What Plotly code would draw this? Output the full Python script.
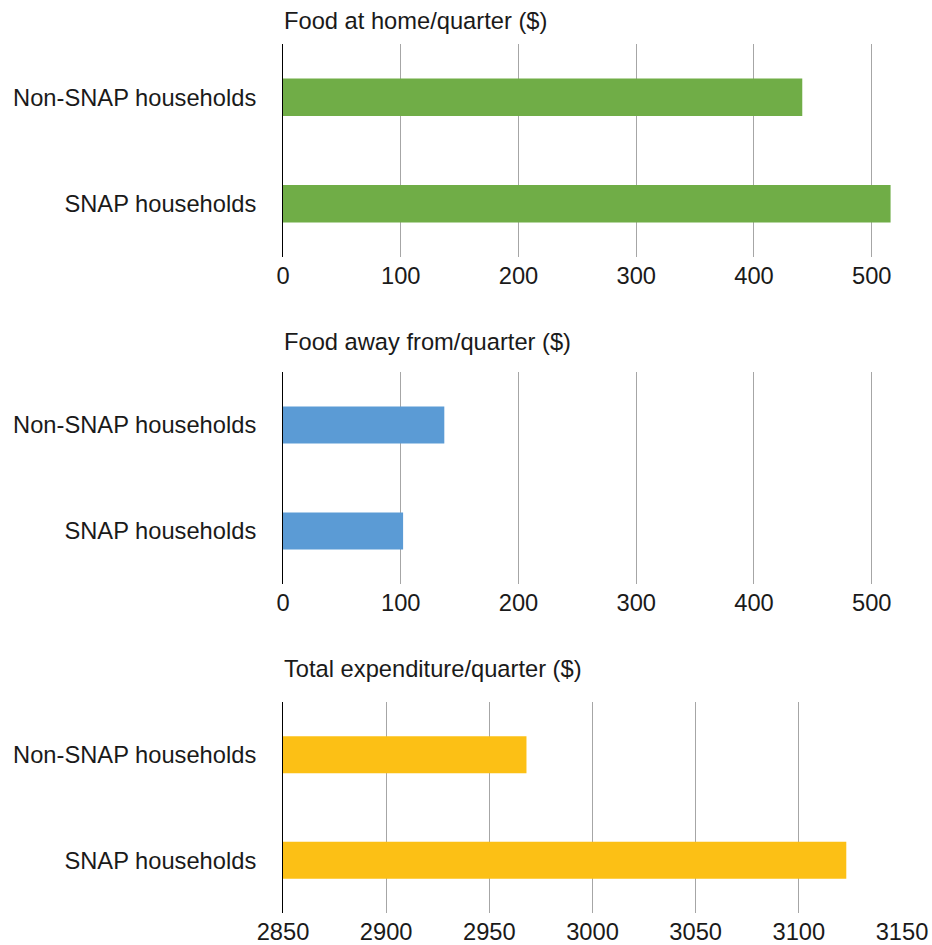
import plotly.graph_objects as go

# Household groups, top to bottom
households = ["Non-SNAP households", "SNAP households"]

# Quarterly spending in dollars
food_at_home = [441, 516]
food_away = [137, 102]
total_expenditure = [2968, 3123]

panel_titles = [
    "Food at home/quarter ($)",
    "Food away from/quarter ($)",
    "Total expenditure/quarter ($)",
]
bar_colors = ["#70AD47", "#5B9BD5", "#FCC015"]

food_ticks = [0, 100, 200, 300, 400, 500]
total_ticks = [2850, 2900, 2950, 3000, 3050, 3100, 3150]

W, H = 932, 945
FONT = "Liberation Sans, Arial, Helvetica, sans-serif"
TEXT = "#1a1a1a"
SIZE = 23.7


def ydom(top_px, bottom_px):
    return [1 - bottom_px / H, 1 - top_px / H]


x_dom = [283 / W, 902 / W]
panels = [
    dict(values=food_at_home, ticks=food_ticks, rng=[0, 525.7],
         dom=ydom(44, 257), title_y=21.5),
    dict(values=food_away, ticks=food_ticks, rng=[0, 525.7],
         dom=ydom(372, 584), title_y=341.5),
    dict(values=total_expenditure, ticks=total_ticks, rng=[2850, 3150],
         dom=ydom(702, 913), title_y=668.5),
]

fig = go.Figure()
layout = dict(
    template="none",
    width=W, height=H,
    margin=dict(l=0, r=0, t=0, b=0, autoexpand=False),
    paper_bgcolor="white", plot_bgcolor="white",
    showlegend=False,
    bargap=0.65,
    font=dict(family=FONT, size=SIZE, color=TEXT),
    annotations=[],
)

for i, p in enumerate(panels):
    n = "" if i == 0 else str(i + 1)
    base = p["rng"][0]
    fig.add_trace(go.Bar(
        x=[v - base for v in p["values"]], base=base,
        y=households, orientation="h",
        marker=dict(color=bar_colors[i], line=dict(width=0)),
        xaxis="x" + n, yaxis="y" + n,
        hovertemplate="%{y}: %{x}<extra></extra>",
    ))
    layout["xaxis" + n] = dict(
        domain=x_dom, range=p["rng"], anchor="y" + n, automargin=False,
        tickvals=p["ticks"], ticks="", showline=False, zeroline=False,
        showgrid=True, gridcolor="#a6a6a6", gridwidth=1,
        ticklabelstandoff=2,
        tickfont=dict(family=FONT, size=SIZE, color=TEXT),
    )
    layout["yaxis" + n] = dict(
        domain=p["dom"], anchor="x" + n, type="category", automargin=False,
        categoryorder="array", categoryarray=households,
        autorange="reversed", showgrid=False, zeroline=False,
        showline=True, linecolor="#000000", linewidth=1,
        ticks="", ticklabelstandoff=21,
        tickfont=dict(family=FONT, size=SIZE, color=TEXT),
    )
    layout["annotations"].append(dict(
        text=panel_titles[i], xref="paper", yref="paper",
        x=282 / W, y=1 - p["title_y"] / H,
        xanchor="left", yanchor="middle", showarrow=False,
        font=dict(family=FONT, size=SIZE, color=TEXT),
    ))

fig.update_layout(**layout)
fig.write_html("out.html")
